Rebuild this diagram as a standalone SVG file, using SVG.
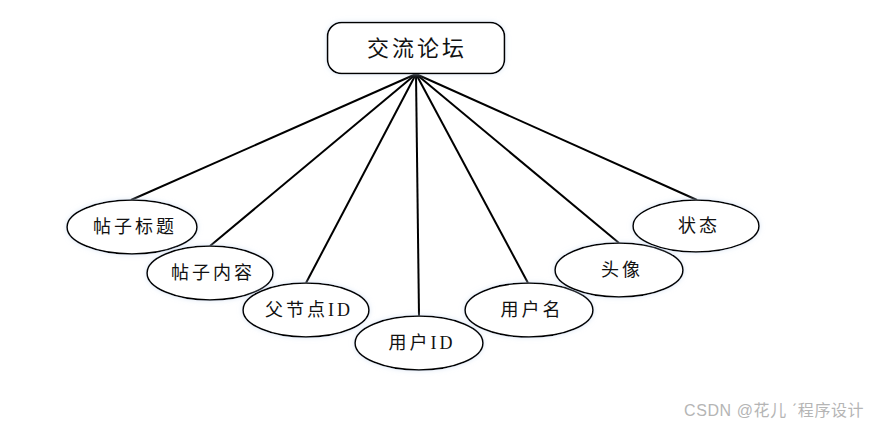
<svg xmlns="http://www.w3.org/2000/svg" width="869" height="425" viewBox="0 0 869 425">
<style>
.shape{fill:#fff;stroke:#000;stroke-width:1.6;filter:url(#glow)}
.lbl{font-family:"Liberation Serif","Noto Sans CJK SC",serif;font-size:18px;fill:#111;text-anchor:middle;dominant-baseline:central;letter-spacing:3px}
.title{font-size:22px;letter-spacing:3px}
.conn line{stroke:#000;stroke-width:2}
.wm{font-family:"Liberation Sans","Noto Sans CJK SC",sans-serif;font-size:16px;fill:#b5b5b5;letter-spacing:0.6px}
</style>
<defs>
<filter id="glow" x="-20%" y="-30%" width="140%" height="160%">
<feGaussianBlur in="SourceAlpha" stdDeviation="2.5" result="b"/>
<feFlood flood-color="#c8d8f0" flood-opacity="0.6"/>
<feComposite in2="b" operator="in" result="s"/>
<feMerge><feMergeNode in="s"/><feMergeNode in="SourceGraphic"/></feMerge>
</filter>
</defs>
<rect width="869" height="425" fill="#fff"/>
<g class="conn" id="connectors">
<line x1="416" y1="74" x2="131" y2="200"/>
<line x1="416" y1="74" x2="210" y2="246"/>
<line x1="416" y1="74" x2="306" y2="283"/>
<line x1="416" y1="74" x2="419" y2="316"/>
<line x1="416" y1="74" x2="528" y2="283"/>
<line x1="416" y1="74" x2="619" y2="243"/>
<line x1="416" y1="74" x2="697" y2="200"/>
</g>
<g id="node-forum">
<rect class="shape" x="327.500" y="22.500" width="177" height="51" rx="14"/>
<text class="lbl title" x="417" y="48">交流论坛</text>
</g>
<g id="node-title">
<ellipse class="shape" cx="132" cy="227" rx="65" ry="27"/>
<text class="lbl" x="135" y="227">帖子标题</text>
</g>
<g id="node-content">
<ellipse class="shape" cx="210" cy="273" rx="63" ry="27"/>
<text class="lbl" x="213" y="273">帖子内容</text>
</g>
<g id="node-parent">
<ellipse class="shape" cx="306" cy="310" rx="63" ry="27"/>
<text class="lbl" x="309" y="310">父节点ID</text>
</g>
<g id="node-userid">
<ellipse class="shape" cx="419" cy="343" rx="64" ry="27"/>
<text class="lbl" x="422" y="343">用户ID</text>
</g>
<g id="node-username">
<ellipse class="shape" cx="529" cy="310" rx="64" ry="27"/>
<text class="lbl" x="532" y="310">用户名</text>
</g>
<g id="node-avatar">
<ellipse class="shape" cx="619" cy="270" rx="64" ry="27"/>
<text class="lbl" x="622" y="270">头像</text>
</g>
<g id="node-status">
<ellipse class="shape" cx="696" cy="226" rx="63" ry="26"/>
<text class="lbl" x="699" y="226">状态</text>
</g>
<text class="wm" x="684" y="416">CSDN @花儿 ˊ程序设计</text>
</svg>
